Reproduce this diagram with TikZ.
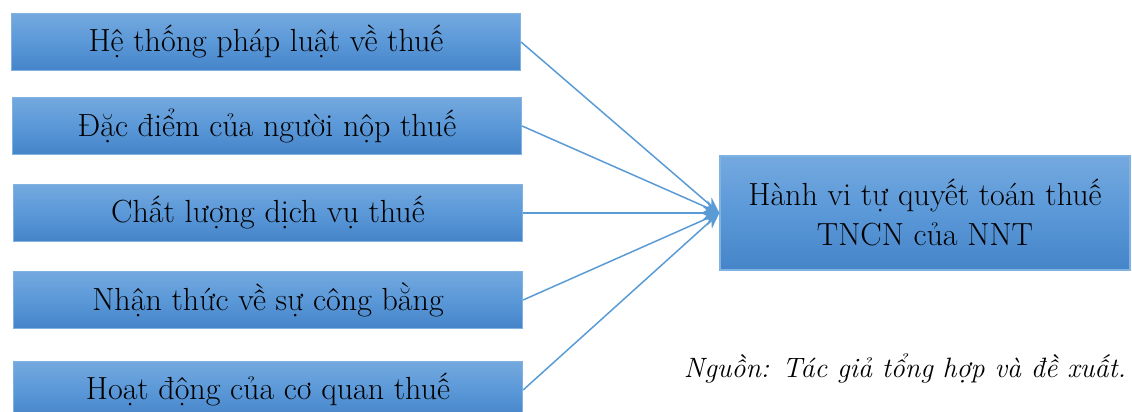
\documentclass[tikz,border=0pt]{standalone}
\usepackage{fontspec}
\setmainfont{Latin Modern Roman}
\usetikzlibrary{arrows.meta}
\definecolor{boxtop}{HTML}{74A9DF}
\definecolor{boxmid}{HTML}{5A98D8}
\definecolor{boxbot}{HTML}{4584C8}
\definecolor{boxline}{HTML}{80B2E2}
\definecolor{linkblue}{HTML}{5B9BD5}
\begin{document}
\begin{tikzpicture}[x=1pt,y=-1pt,
  factor/.style={draw=boxline, line width=1.2pt,
    top color=boxtop, bottom color=boxbot, middle color=boxmid,
    minimum width=509pt, minimum height=57pt, inner sep=0pt,
    font=\fontsize{32}{40}\selectfont},
  outcome/.style={factor, minimum width=410pt, minimum height=114pt, align=center},
  link/.style={draw=linkblue, line width=1.5pt, -{Stealth[length=16pt,width=13pt]}}]
\useasboundingbox (0,0) rectangle (1132,412);

\node[factor] (f1) at (266,42)  {Hệ thống pháp luật về thuế};
\node[factor] (f2) at (267,126) {Đặc điểm của người nộp thuế};
\node[factor] (f3) at (268,213) {Chất lượng dịch vụ thuế};
\node[factor] (f4) at (268,300) {Nhận thức về sự công bằng};
\node[factor] (f5) at (268,390) {Hoạt động của cơ quan thuế};

\node[outcome] (out) at (925,213) {Hành vi tự quyết toán thuế\\TNCN của NNT};

\coordinate (tip) at (out.west);
\foreach \f in {f1,f2,f3,f4,f5}
  \draw[link] (\f.east) -- (tip);

\node[font=\fontsize{28}{32}\selectfont\itshape] (src) at (905,368)
  {Nguồn: Tác giả tổng hợp và đề xuất.};
\end{tikzpicture}
\end{document}
